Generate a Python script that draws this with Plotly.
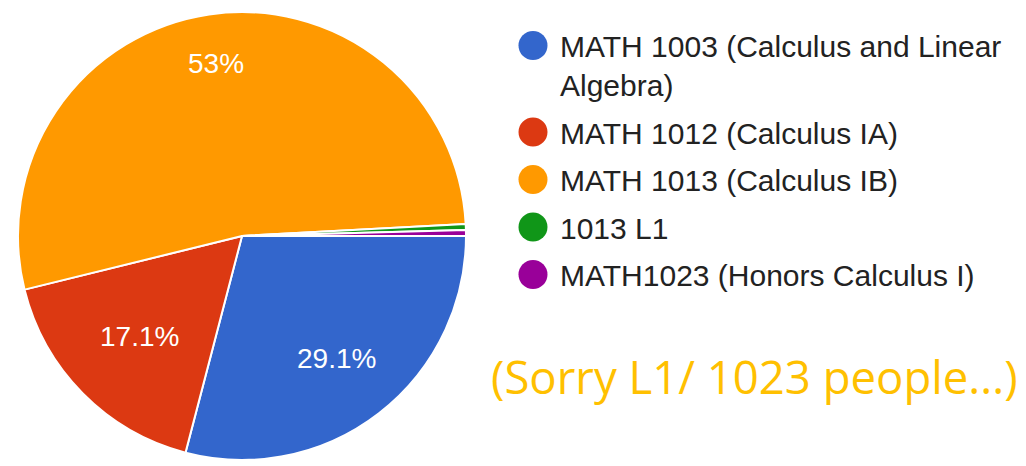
import math
import plotly.graph_objects as go

# ---- data ----
categories = [
    "MATH 1003 (Calculus and Linear Algebra)",
    "MATH 1012 (Calculus IA)",
    "MATH 1013 (Calculus IB)",
    "1013 L1",
    "MATH1023 (Honors Calculus I)",
]
legend_lines = [
    ["MATH 1003 (Calculus and Linear", "Algebra)"],
    ["MATH 1012 (Calculus IA)"],
    ["MATH 1013 (Calculus IB)"],
    ["1013 L1"],
    ["MATH1023 (Honors Calculus I)"],
]
responses = [68, 40, 124, 1, 1]
colors = ["#3366cc", "#dc3912", "#ff9900", "#109618", "#990099"]
note_text = "(Sorry L1/ 1023 people...)"

# ---- layout parameters ----
W, H = 1026, 466
pie_x = [18, 466]          # pixel extents of pie domain
pie_y = [6, 454]
label_radius = [0.69, 0.64, 0.777, 0, 0]   # where the % label sits (fraction of radius)

total = sum(responses)

fig = go.Figure()
fig.add_trace(go.Pie(
    labels=categories,
    values=responses,
    sort=False,
    direction="clockwise",
    rotation=90,
    marker=dict(colors=colors, line=dict(color="white", width=2)),
    textinfo="none",
    showlegend=False,
    domain=dict(x=[pie_x[0] / W, pie_x[1] / W], y=[pie_y[0] / H, pie_y[1] / H]),
    hoverinfo="label+percent",
))

annotations = []
shapes = []

# percent labels computed from the data (clockwise from 3 o'clock)
cxp = (pie_x[0] + pie_x[1]) / 2
cyp = H - (pie_y[0] + pie_y[1]) / 2   # from top
R = (pie_x[1] - pie_x[0]) / 2
cum = 0.0
for v, rf in zip(responses, label_radius):
    frac = v / total
    mid = (cum + frac / 2) * 2 * math.pi
    cum += frac
    if frac < 0.05:
        continue
    px = cxp + rf * R * math.cos(mid)
    py = cyp + rf * R * math.sin(mid)
    annotations.append(dict(
        x=px / W, y=1 - py / H, xref="paper", yref="paper",
        xanchor="center", yanchor="middle", showarrow=False,
        text=f"{frac * 100:.3g}%",
        font=dict(family="Liberation Sans, Arial, sans-serif", size=28, color="white"),
    ))

# legend
y = 45.5
r = 14.5
cx = 533
for lines, col in zip(legend_lines, colors):
    shapes.append(dict(
        type="circle", xref="paper", yref="paper",
        x0=(cx - r) / W, x1=(cx + r) / W,
        y0=1 - (y + r) / H, y1=1 - (y - r) / H,
        fillcolor=col, line=dict(width=0),
    ))
    for i, ln in enumerate(lines):
        annotations.append(dict(
            x=558 / W, y=1 - (y + 1 + 39 * i) / H, xref="paper", yref="paper",
            xanchor="left", yanchor="middle", showarrow=False,
            text=ln,
            font=dict(family="Liberation Sans, Arial, sans-serif", size=30, color="#222222"),
        ))
    y += 39 * (len(lines) - 1) + 47.5

annotations.append(dict(
    x=489 / W, y=1 - 376 / H, xref="paper", yref="paper",
    xanchor="left", yanchor="middle", showarrow=False,
    text=note_text,
    font=dict(family="Open Sans, Noto Sans, sans-serif", size=45.5, color="#ffc000"),
))

fig.update_layout(
    width=W, height=H,
    margin=dict(l=0, r=0, t=0, b=0),
    paper_bgcolor="white",
    plot_bgcolor="white",
    shapes=shapes,
    annotations=annotations,
)

fig.write_html("out.html")
